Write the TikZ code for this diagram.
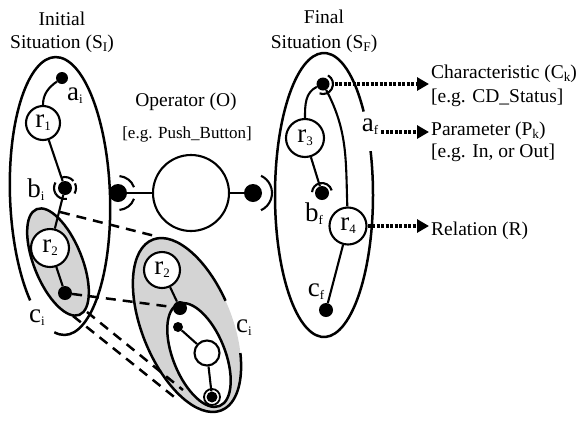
\documentclass[tikz,border=0pt]{standalone}
\usepackage{fontspec}
\setmainfont{Liberation Serif}
\usetikzlibrary{arrows.meta}
\newcommand\tsub[1]{\raisebox{-0.18em}{\scalebox{0.68}{#1}}}
\newcommand\nsub[1]{\raisebox{-0.12em}{\scalebox{0.48}{#1}}}
\begin{document}
\begin{tikzpicture}[x=1pt,y=1pt,
 ell/.style={line width=2.5pt},
 lnk/.style={line width=2.1pt},
 sock/.style={line width=2.1pt},
 rnode/.style={circle, draw, line width=2.1pt, fill=white, inner sep=0pt, font=\fontsize{27}{28}\selectfont},
 dotn/.style={circle, fill=black, inner sep=0pt, minimum size=#1},
 lbl/.style={font=\fontsize{27}{28}\selectfont, inner sep=0pt},
 ttl/.style={font=\fontsize{19.5}{23}\selectfont, inner sep=0pt, anchor=base},
 eg/.style={font=\fontsize{19.5}{23}\selectfont, inner sep=0pt, anchor=base west},
 zoomln/.style={line width=2.5pt, dash pattern=on 10pt off 7pt},
 darr/.style={line width=3.5pt, dash pattern=on 3pt off 1.5pt, -{Triangle[length=12pt,width=13pt]}},
 shade/.style={fill=black!17}
]
\useasboundingbox (0,0) rectangle (581,-424);
\fill[white] (0,0) rectangle (581,-424);

% titles
\node[ttl] (t1) at (62,-25) {Initial};
\node[ttl] (t2) at (62,-48) {Situation (S\tsub{I})};
\node[ttl] (t3) at (324,-23) {Final};
\node[ttl] (t4) at (324,-48) {Situation (S\tsub{F})};
\node[ttl] (t5) at (186,-106) {Operator (O)};
\node[ttl, font=\fontsize{17}{20}\selectfont] (t6) at (187,-138) {[e.g. Push\_Button]};

% big left ellipse (open at lower left)
\begin{scope}[shift={(60,-196)}, rotate=2]
 \draw[ell] (258:50pt and 139pt) arc[start angle=258, end angle=588, x radius=50pt, y radius=139pt];
\end{scope}

% small shaded ellipse
\draw[ell, shade, rotate around={22:(58,-262)}] (58,-262) ellipse[x radius=24pt, y radius=57pt];

% magnified ellipse
\fill[shade, rotate around={22:(187,-325)}] (187,-325) ellipse[x radius=45pt, y radius=92pt];
\begin{scope}[shift={(187,-325)}, rotate=22]
 \draw[ell] (5:45pt and 92pt) arc[start angle=5, end angle=330, x radius=45pt, y radius=92pt];
\end{scope}
\draw[ell, fill=white, rotate around={22:(199,-355)}] (199,-355) ellipse[x radius=26pt, y radius=55pt];

% big right ellipse (gap for a_f)
\begin{scope}[shift={(324,-195)}]
 \draw[ell] (36:49pt and 142pt) arc[start angle=36, end angle=378, x radius=49pt, y radius=142pt];
\end{scope}

% left graph
\node[dotn=12pt] (ai) at (62,-78) {};
\node[rnode, minimum size=34pt] (r1) at (43,-123) {r\nsub{1}};
\node[dotn=14pt] (bi) at (65,-188) {};
\node[rnode, minimum size=38pt] (r2) at (50,-248) {r\nsub{2}};
\node[dotn=14pt] (ci) at (65,-293) {};
\draw[lnk] (ai) to[out=215,in=90] (r1);
\draw[lnk] (r1) -- (bi);
\draw[lnk] (bi) -- (r2);
\draw[lnk] (r2) -- (ci);
\foreach \a/\b in {40/110, -30/25, -150/-80, 150/210}
 \draw[sock] ([shift={(\a:11pt)}]bi.center) arc[start angle=\a, end angle=\b, radius=11pt];

% labels
\node[lbl] (lai) at (75,-96) {a\nsub{i}};
\node[lbl] (lbi) at (36,-190) {b\nsub{i}};
\node[lbl] (lci) at (37,-318) {c\nsub{i}};
\node[lbl] (lci2) at (244,-328) {c\nsub{i}};
\node[lbl] (laf) at (370,-127) {a\nsub{f}};
\node[lbl] (lbf) at (314,-214) {b\nsub{f}};
\node[lbl] (lcf) at (316,-292) {c\nsub{f}};

% operator
\node[circle, draw, line width=2.1pt, minimum size=76pt, inner sep=0pt] (op) at (191,-193) {};
\node[dotn=18pt] (opl) at (118,-193) {};
\node[dotn=18pt] (opr) at (253,-193) {};
\draw[lnk] (opl) -- (op);
\draw[lnk] (op) -- (opr);
\draw[sock] ([shift={(20:17pt)}]opl.center) arc[start angle=20, end angle=85, radius=17pt];
\draw[sock] ([shift={(-20:17pt)}]opl.center) arc[start angle=-20, end angle=-85, radius=17pt];
\draw[sock] ([shift={(-65:19pt)}]opr.center) arc[start angle=-65, end angle=65, radius=19pt];

% magnified graph
\node[rnode, minimum size=36pt] (mr2) at (162,-270) {r\nsub{2}};
\node[dotn=14pt] (mdot) at (180,-308) {};
\node[dotn=10pt] (mdot2) at (178,-327) {};
\node[circle, draw, line width=2.1pt, fill=white, minimum size=25pt, inner sep=0pt] (mc) at (207,-353) {};
\node[dotn=11pt] (mdot3) at (212,-397) {};
\draw[line width=1.8pt] (mdot3.center) circle[radius=8pt];
\draw[lnk] (mr2) -- (mdot);
\draw[lnk] (mdot2) -- (mc);
\draw[lnk] (mc) -- (mdot3);

% zoom dashed lines
\coordinate (za) at (60,-212);
\coordinate (zb) at (155,-236);
\coordinate (zc) at (87,-312);
\coordinate (zd) at (183,-390);
\coordinate (ze) at (73,-316);
\coordinate (zf) at (178,-400);
\draw[zoomln] (za) -- (zb);
\draw[zoomln, shorten >=6pt] (ci) -- (mdot);
\draw[zoomln] (zc) -- (zd);
\draw[zoomln] (ze) -- (zf);

% right graph
\node[dotn=13pt] (af) at (323,-84) {};
\node[rnode, minimum size=38pt] (r3) at (305,-138) {r\nsub{3}};
\node[dotn=14pt] (bf) at (322,-193) {};
\node[rnode, minimum size=37pt] (r4) at (348,-226) {r\nsub{4}};
\node[dotn=14pt] (cf) at (326,-310) {};
\draw[lnk] (af) to[out=205,in=90] (r3);
\draw[lnk] (af) to[out=-62,in=92] (r4);
\draw[lnk] (r3) -- (bf);
\draw[lnk] (r4) -- (cf);
\draw[sock] ([shift={(60:10pt)}]af.center) arc[start angle=60, end angle=-110, radius=10pt];
\draw[sock] ([shift={(15:10pt)}]bf.center) arc[start angle=15, end angle=175, radius=10pt];

% annotation arrows
\coordinate (ck) at (429,-84);
\coordinate (pk) at (429,-132);
\coordinate (rk) at (429,-226);
\draw[darr] ([xshift=5pt]af.east) -- (ck);
\draw[darr] ([xshift=3pt]laf.east |- pk) -- (pk);
\draw[darr] (r4.east) -- (rk);

\node[eg] (tck) at (431,-78) {Characteristic (C\tsub{k})};
\node[eg] (tcke) at (431,-102) {[e.g. CD\_Status]};
\node[eg] (tpk) at (431,-135) {Parameter (P\tsub{k})};
\node[eg] (tpke) at (431,-157) {[e.g. In, or Out]};
\node[eg] (trk) at (431,-235) {Relation (R)};
\end{tikzpicture}
\end{document}
